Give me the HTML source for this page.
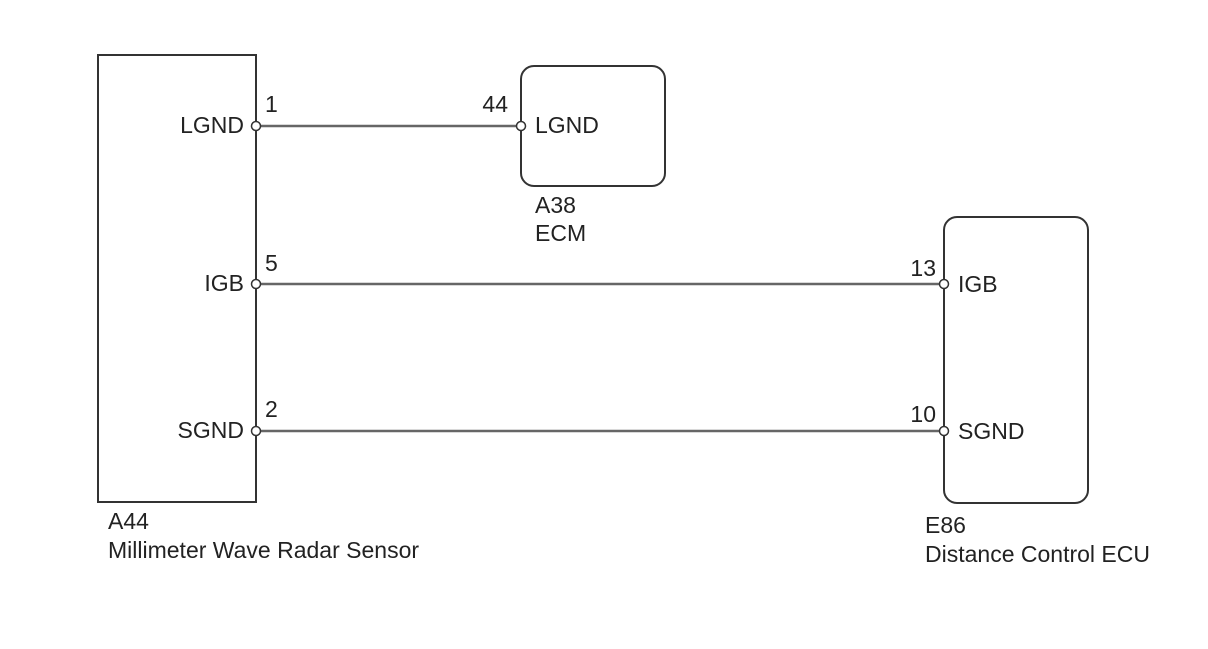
<!DOCTYPE html>
<html><head><style>
html,body{margin:0;padding:0;background:#fff;}
svg text{font-family:"Liberation Sans",Arial,sans-serif;font-size:23px;fill:#222;}
</style></head><body>
<svg width="1208" height="644" xmlns="http://www.w3.org/2000/svg">
<rect x="0" y="0" width="1208" height="644" fill="#fff"/>
<rect x="98" y="55" width="158" height="447" fill="none" stroke="#333" stroke-width="2"/>
<rect x="521" y="66" width="144" height="120" rx="13" fill="none" stroke="#333" stroke-width="2"/>
<rect x="944" y="217" width="144" height="286" rx="13" fill="none" stroke="#333" stroke-width="2"/>
<g stroke="#666" stroke-width="2.5">
<line x1="256" y1="126" x2="521" y2="126"/>
<line x1="256" y1="284" x2="944" y2="284"/>
<line x1="256" y1="431" x2="944" y2="431"/>
</g>
<g fill="#fff" stroke="#333" stroke-width="1.5">
<circle cx="256" cy="126" r="4.5"/><circle cx="521" cy="126" r="4.5"/>
<circle cx="256" cy="284" r="4.5"/><circle cx="944" cy="284" r="4.5"/>
<circle cx="256" cy="431" r="4.5"/><circle cx="944" cy="431" r="4.5"/>
</g>
<text x="244" y="133" text-anchor="end">LGND</text>
<text x="244" y="291" text-anchor="end">IGB</text>
<text x="244" y="438" text-anchor="end">SGND</text>
<text x="265" y="112">1</text>
<text x="265" y="271">5</text>
<text x="265" y="417">2</text>
<text x="508" y="112" text-anchor="end">44</text>
<text x="535" y="133">LGND</text>
<text x="535" y="213">A38</text>
<text x="535" y="241">ECM</text>
<text x="936" y="276" text-anchor="end">13</text>
<text x="936" y="422" text-anchor="end">10</text>
<text x="958" y="292">IGB</text>
<text x="958" y="439">SGND</text>
<text x="108" y="529">A44</text>
<text x="108" y="558">Millimeter Wave Radar Sensor</text>
<text x="925" y="533">E86</text>
<text x="925" y="562">Distance Control ECU</text>
</svg>
</body></html>
